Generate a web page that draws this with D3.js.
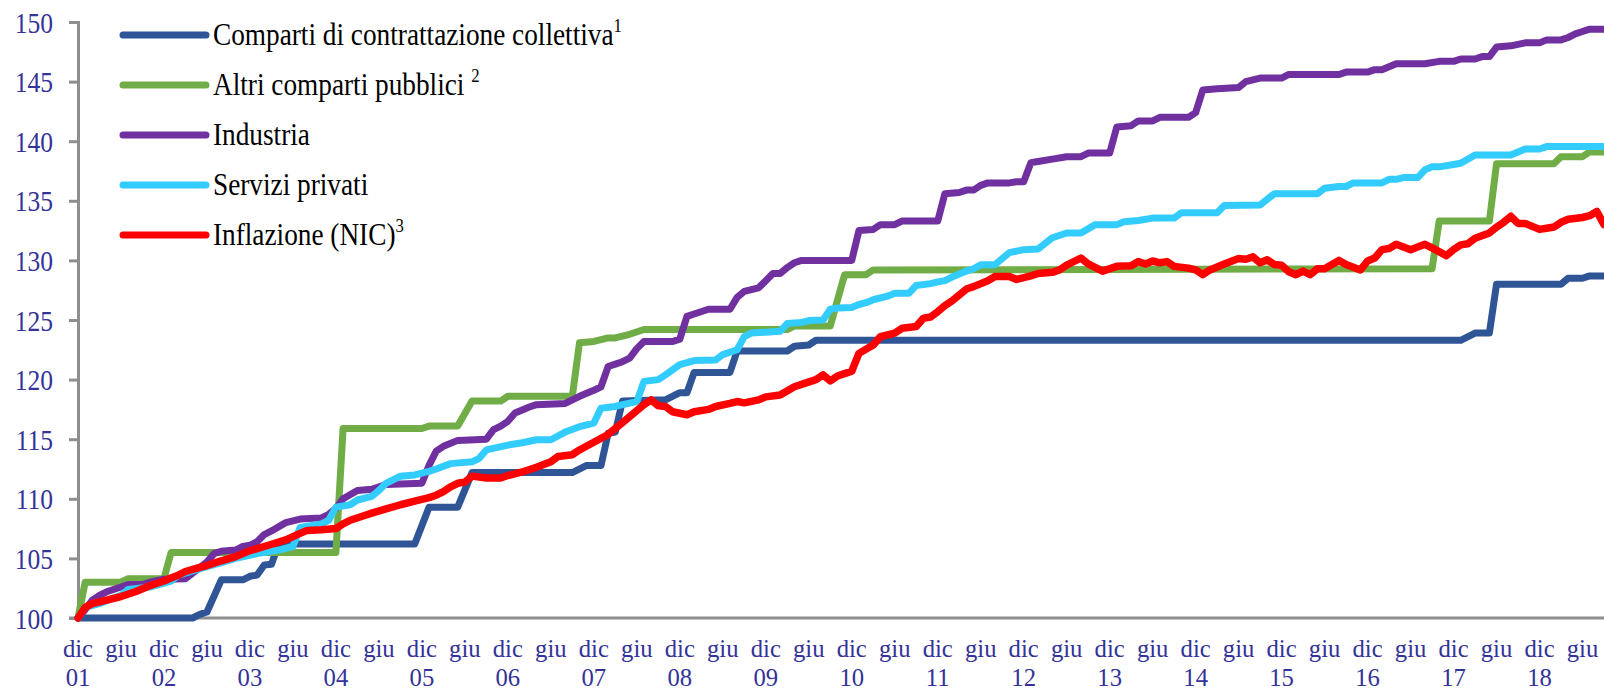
<!DOCTYPE html>
<html>
<head>
<meta charset="utf-8">
<script src="https://cdn.jsdelivr.net/npm/d3@7"></script>
<style>
  body { margin: 0; background: #fff; }
  svg { display: block; }
  text { font-family: "Liberation Serif", "Times New Roman", serif; }
</style>
</head>
<body>
<svg id="chart"></svg>
<script>
// month index: 0 = dic 2001, one step per month
const axisMonthLabels = ["dic","giu","dic","giu","dic","giu","dic","giu","dic","giu","dic","giu",
  "dic","giu","dic","giu","dic","giu","dic","giu","dic","giu","dic","giu","dic","giu","dic","giu",
  "dic","giu","dic","giu","dic","giu","dic","giu"];
const axisYearLabels = ["01","","02","","03","","04","","05","","06","","07","","08","","09","",
  "10","","11","","12","","13","","14","","15","","16","","17","","18",""];
const yTicks = [100, 105, 110, 115, 120, 125, 130, 135, 140, 145, 150];

const seriesNames = ["Comparti di contrattazione collettiva", "Altri comparti pubblici ", "Industria",
  "Servizi privati", "Inflazione (NIC)"];
const seriesNotes = ["1", "2", "", "", "3"];
const seriesColors = ["#2F5597", "#70AD47", "#7030A0", "#33CCFF", "#FF0000"];

const comparti = [[0,100],[16,100],[17,100.3],[18,100.5],[20,103.2],[23,103.2],[24,103.5],[25,103.6],
  [26,104.45],[27,104.5],[28,106.2],[47,106.2],[49,109.3],[53,109.3],[55,112.2],[69,112.2],[71,112.8],
  [73,112.8],[74,115.5],[75,115.6],[76,118.2],[82,118.3],[84,118.9],[85,118.9],[86,120.6],[91,120.6],
  [92,122.4],[99,122.4],[100,122.8],[102,122.9],[103,123.3],[193,123.3],[195,123.9],[197,123.9],
  [198,128.0],[207,128.0],[208,128.5],[210,128.5],[211,128.7],[213,128.7]];

const altri = [[0,100],[1,103.0],[6,103.0],[7,103.3],[12,103.3],[13,105.5],[36,105.5],[37,115.9],
  [48,115.9],[49,116.1],[53,116.1],[55,118.2],[59,118.2],[60,118.6],[69,118.6],[70,123.1],[72,123.2],
  [74,123.5],[75,123.5],[77,123.8],[79,124.2],[99,124.2],[100,124.5],[105,124.5],[107,128.8],
  [110,128.8],[111,129.2],[189,129.3],[190,133.3],[197,133.3],[198,138.1],[206,138.1],[207,138.7],
  [210,138.7],[211,139.1],[213,139.1]];

const industria = [[0,100],[1,100.7],[2,101.5],[3,101.9],[4,102.2],[6,102.6],[7,102.8],[9,102.8],
  [10,103.0],[12,103.25],[15,103.3],[18,104.7],[19,105.4],[20,105.6],[22,105.7],[23,106.0],[24,106.1],
  [25,106.4],[26,107.0],[27,107.3],[29,108.0],[31,108.3],[34,108.4],[35,108.7],[36,109.2],[37,110.0],
  [39,110.7],[41,110.8],[43,111.2],[48,111.3],[49,112.8],[50,114.0],[51,114.4],[53,114.9],[57,115.0],
  [58,115.8],[59,116.1],[60,116.5],[61,117.2],[63,117.7],[64,117.9],[68,118.0],[70,118.6],[72,119.1],
  [73,119.4],[74,121.1],[75,121.3],[76,121.5],[77,121.8],[78,122.6],[79,123.2],[83,123.2],[84,123.4],
  [85,125.3],[86,125.5],[88,125.9],[91,125.9],[92,126.9],[93,127.4],[95,127.7],[96,128.3],[97,128.9],
  [98,128.9],[99,129.4],[100,129.8],[101,130.0],[108,130.0],[109,132.5],[111,132.6],[112,133.0],
  [114,133.0],[115,133.3],[120,133.3],[121,135.6],[123,135.7],[124,135.9],[125,135.9],[126,136.3],
  [127,136.5],[130,136.5],[131,136.6],[132,136.6],[133,138.2],[134,138.3],[136,138.5],[138,138.7],
  [140,138.7],[141,139.0],[144,139.0],[145,141.2],[147,141.3],[148,141.7],[150,141.7],[151,142.0],
  [155,142.0],[156,142.4],[157,144.3],[159,144.4],[162,144.5],[163,145.0],[165,145.3],[168,145.3],
  [169,145.6],[176,145.6],[177,145.8],[180,145.8],[181,146.0],[182,146.0],[184,146.5],[188,146.5],
  [190,146.7],[192,146.7],[193,146.9],[195,146.9],[196,147.1],[197,147.1],[198,147.9],[200,148.0],
  [202,148.25],[204,148.25],[205,148.5],[207,148.5],[208,148.7],[209,149.0],[210,149.2],[211,149.4],
  [213,149.4]];

const servizi = [[0,100],[1,100.9],[3,101.2],[5,101.7],[6,101.9],[7,102.4],[10,102.6],[13,103.1],
  [14,103.6],[18,104.3],[20,104.65],[22,105.0],[25,105.4],[28,105.7],[30,106.0],[31,107.6],[34,107.9],
  [35,108.2],[36,109.3],[38,109.5],[39,109.9],[41,110.2],[42,110.7],
  [43,111.3],[45,111.9],[47,112.0],[49,112.3],[50,112.5],[52,112.95],[55,113.1],[56,113.4],[57,114.1],
  [60,114.5],[62,114.7],[64,114.95],[66,114.95],[68,115.6],[70,116.05],[72,116.35],[73,117.6],
  [75,117.75],[76,117.9],[78,118.15],[79,119.85],[81,120.0],[82,120.4],[84,121.25],[86,121.6],
  [89,121.65],[90,122.1],[92,122.5],[93,123.6],[94,123.9],[98,124.05],[99,124.7],[101,124.8],
  [102,124.95],[104,125.0],[105,125.9],[106,126.0],[108,126.05],[109,126.3],[110,126.45],[111,126.7],
  [113,127.0],[114,127.25],[116,127.25],[117,127.9],[119,128.05],[120,128.2],[121,128.3],[122,128.6],
  [124,129.1],[125,129.3],[126,129.64],[128,129.64],[130,130.65],[132,130.9],[134,130.95],[136,131.9],
  [138,132.3],[140,132.3],[142,133.0],[145,133.0],[146,133.25],[148,133.35],[150,133.55],[153,133.55],
  [154,134.0],[159,134.0],[160,134.6],[165,134.65],[167,135.6],[173,135.6],[174,136.05],[176,136.2],
  [177,136.2],[178,136.5],[182,136.5],[183,136.8],[184,136.8],[185,136.95],[187,136.95],[188,137.6],
  [189,137.85],[190,137.85],[192,138.05],[193,138.15],[195,138.85],[200,138.85],[202,139.35],
  [204,139.35],[205,139.55],[213,139.55]];

const inflazione = [[0,100],[1,100.9],[2,101.2],[4,101.5],[6,101.8],[8,102.2],[10,102.7],[12,103.1],
  [13,103.35],[14,103.6],[15,103.9],[17,104.25],[18,104.4],[20,104.8],[22,105.15],[24,105.65],[26,106.0],
  [29,106.55],[31,107.1],[32,107.35],[34,107.4],[36,107.5],[37,107.9],[38,108.2],[40,108.6],[41,108.8],
  [43,109.15],[45,109.5],[47,109.8],[49,110.1],[50,110.3],[51,110.6],[52,111.0],[53,111.3],[54,111.4],
  [55,111.9],[57,111.75],[59,111.75],[60,111.95],[62,112.25],[64,112.65],[66,113.1],[67,113.55],
  [69,113.7],[70,114.1],[72,114.75],[74,115.4],[75,115.9],[76,116.4],[77,116.9],[78,117.4],[79,117.9],
  [80,118.3],[81,117.8],[82,117.75],[83,117.3],[85,117.05],[86,117.3],[88,117.5],[89,117.74],[91,118.0],
  [92,118.16],[93,118.05],[95,118.3],[96,118.55],[98,118.7],[100,119.4],[101,119.6],[103,120.0],
  [104,120.4],[105,119.9],[106,120.3],[107,120.5],[108,120.7],[109,122.2],[111,122.9],[112,123.6],
  [114,123.9],[115,124.3],[117,124.45],[118,125.15],[119,125.25],[120,125.7],[121,126.2],[122,126.6],
  [124,127.6],[125,127.8],[127,128.3],[128,128.65],[130,128.65],[131,128.4],[133,128.7],[134,128.9],
  [136,129.0],[137,129.2],[138,129.6],[140,130.2],[141,129.7],[143,129.1],[145,129.5],[147,129.55],
  [148,129.9],[149,129.7],[150,129.95],[151,129.8],[152,129.9],[153,129.5],[155,129.35],[156,129.2],
  [157,128.8],[158,129.2],[160,129.7],[162,130.15],[163,130.1],[164,130.3],[165,129.8],[166,130.05],
  [167,129.65],[168,129.6],[169,129.05],[170,128.8],[171,129.1],[172,128.8],[173,129.3],[174,129.3],
  [176,130.0],[177,129.65],[179,129.2],[180,129.95],[181,130.2],[182,130.9],[183,131.0],[184,131.35],
  [186,130.9],[188,131.35],[189,131.05],[191,130.4],[192,130.9],[193,131.3],[194,131.4],[195,131.85],
  [197,132.3],[198,132.8],[199,133.2],[200,133.7],[201,133.1],[202,133.1],[204,132.6],[205,132.7],
  [206,132.8],[207,133.2],[208,133.45],[210,133.6],[211,133.75],[212,134.1],[213,133.0]];

const allSeries = [comparti, altri, industria, servizi, inflazione];

const width = 1604, height = 692;
const margin = { top: 22, right: 0, bottom: 74, left: 78 };
const squeeze = 0.88;   // glyphs in the original are a bit narrow
const axisColor = "#8E8E8E";
const labelColor = "#333399";

const svg = d3.select("#chart").attr("width", width).attr("height", height);

const xScale = d3.scaleLinear().domain([0, 213]).range([margin.left, width - margin.right]);
const yScale = d3.scaleLinear().domain([100, 150]).range([height - margin.bottom, margin.top]);

// y axis
const yAxis = svg.append("g").attr("transform", `translate(${margin.left},0)`)
  .call(d3.axisLeft(yScale).tickValues(yTicks).tickSize(9).tickPadding(16).tickFormat(d3.format("d")));
yAxis.select(".domain").attr("stroke", axisColor).attr("stroke-width", 3);
yAxis.selectAll(".tick line").attr("stroke", axisColor).attr("stroke-width", 3);
yAxis.selectAll(".tick text")
  .attr("fill", labelColor)
  .style("font-size", "29px")
  .attr("x", null).attr("dy", null)
  .attr("transform", `translate(-25,10) scale(${squeeze},1)`);

// x axis line
svg.append("line")
  .attr("x1", margin.left - 9).attr("x2", width)
  .attr("y1", yScale(100)).attr("y2", yScale(100))
  .attr("stroke", axisColor).attr("stroke-width", 3);

// x labels every 6 months, year under "dic"
const xLabels = svg.append("g");
axisMonthLabels.forEach((lab, i) => {
  const xm = xScale(i * 6);
  xLabels.append("text")
    .attr("transform", `translate(${xm},657) scale(0.95,1)`)
    .attr("text-anchor", "middle").attr("fill", labelColor)
    .style("font-size", "26px").text(lab);
  if (axisYearLabels[i]) {
    xLabels.append("text")
      .attr("transform", `translate(${xm},686) scale(0.95,1)`)
      .attr("text-anchor", "middle").attr("fill", labelColor)
      .style("font-size", "26px").text(axisYearLabels[i]);
  }
});

// lines
const lineGen = d3.line().x(d => xScale(d[0])).y(d => yScale(d[1]));
svg.append("g").selectAll("path")
  .data(allSeries)
  .join("path")
  .attr("d", lineGen)
  .attr("fill", "none")
  .attr("stroke", (d, i) => seriesColors[i])
  .attr("stroke-width", (d, i) => i === 4 ? 7.5 : 7)
  .attr("stroke-linejoin", "round")
  .attr("stroke-linecap", "round");

// legend
const legend = svg.append("g");
seriesNames.forEach((name, i) => {
  const ly = 35 + i * 50;
  legend.append("line")
    .attr("x1", 123).attr("x2", 206).attr("y1", ly).attr("y2", ly)
    .attr("stroke", seriesColors[i]).attr("stroke-width", 7).attr("stroke-linecap", "round");
  const t = legend.append("text")
    .attr("transform", `translate(213,${ly + 10}) scale(${squeeze},1)`)
    .attr("fill", "#000").style("font-size", "31px");
  t.append("tspan").text(name);
  if (seriesNotes[i]) {
    t.append("tspan").attr("dy", -13).style("font-size", "19px").text(seriesNotes[i]);
  }
});
</script>
</body>
</html>
